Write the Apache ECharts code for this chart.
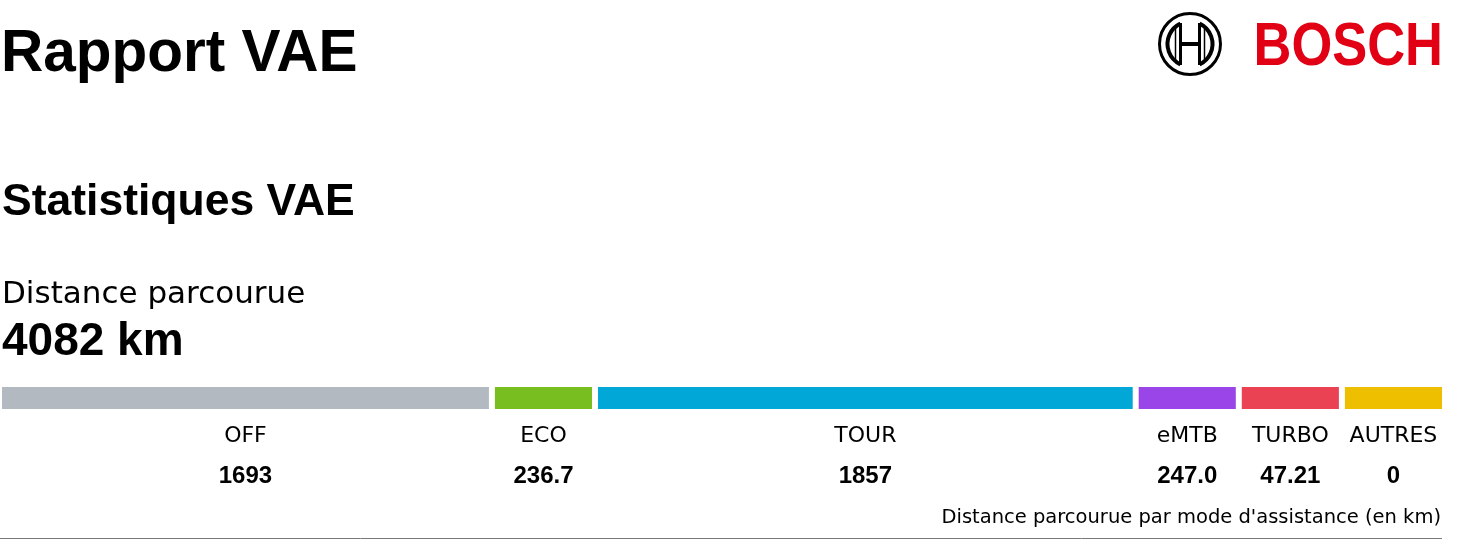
<!DOCTYPE html>
<html>
<head>
<meta charset="utf-8">
<script src="https://cdn.jsdelivr.net/npm/echarts@6/dist/echarts.min.js"></script>
<style>
  html, body { margin: 0; padding: 0; background: #fff; }
  #chart { width: 1462px; height: 552px; }
</style>
</head>
<body>
<div id="chart"></div>
<script>
// modes d'assistance et distances (km)
var modes = ['OFF', 'ECO', 'TOUR', 'eMTB', 'TURBO', 'AUTRES'];
var distances = [1693, 236.7, 1857, 247.0, 47.21, 0];
var modeColors = ['#b2b9c0', '#78be20', '#00a7d7', '#9a45e8', '#ea4253', '#edbf00'];
var totalKm = 4082;

// petits segments gardent une largeur minimale
var minShare = 0.0713;
function shares(vals) {
    var sum = 0, bigSum = 0, nSmall = 0;
    vals.forEach(function (v) { sum += v; });
    var small = vals.map(function (v) { return v / sum < minShare; });
    vals.forEach(function (v, i) {
        if (small[i]) nSmall++; else bigSum += v;
    });
    var rest = 1 - nSmall * minShare;
    return vals.map(function (v, i) { return small[i] ? minShare : v / bigSum * rest; });
}

function fmt(v) {
    return v === 0 ? '0' : v.toPrecision(4);
}

var sh = shares(distances);
var segData = [];
var acc = 0;
for (var i = 0; i < sh.length; i++) {
    segData.push([acc, acc + sh[i], 0, i]);
    acc += sh[i];
}

var chart = echarts.init(document.getElementById('chart'));
var gap = 6;

chart.setOption({
    animation: false,
    grid: { left: 2, right: 14, top: 387, height: 22 },
    xAxis: { type: 'value', min: 0, max: 1, show: false },
    yAxis: { type: 'category', data: ['km'], show: false },
    series: [{
        type: 'custom',
        data: segData,
        encode: { x: [0, 1], y: 2 },
        renderItem: function (params, api) {
            var idx = api.value(3);
            var s = api.coord([api.value(0), 0]);
            var e = api.coord([api.value(1), 0]);
            var w = e[0] - s[0] - gap;
            var cx = s[0] + w / 2;
            return {
                type: 'group',
                children: [{
                    type: 'rect',
                    shape: { x: s[0], y: s[1] - 11, width: w, height: 22 },
                    style: { fill: modeColors[idx] }
                }, {
                    type: 'text',
                    style: {
                        text: modes[idx], x: cx, y: s[1] + 38,
                        textAlign: 'center', textVerticalAlign: 'middle',
                        fontFamily: 'DejaVu Sans', fontSize: 22, fill: '#000'
                    }
                }, {
                    type: 'text',
                    style: {
                        text: fmt(distances[idx]), x: cx, y: s[1] + 78,
                        textAlign: 'center', textVerticalAlign: 'middle',
                        fontFamily: 'Liberation Sans', fontWeight: 'bold', fontSize: 24, fill: '#000'
                    }
                }]
            };
        }
    }],
    graphic: [
        {
            type: 'text', x: 1, y: 55,
            style: { text: 'Rapport VAE', textVerticalAlign: 'middle', fontFamily: 'Liberation Sans', fontWeight: 'bold', fontSize: 58.5, fill: '#000' }
        },
        {
            type: 'text', x: 2, y: 203,
            style: { text: 'Statistiques VAE', textVerticalAlign: 'middle', fontFamily: 'Liberation Sans', fontWeight: 'bold', fontSize: 44.5, fill: '#000' }
        },
        {
            type: 'text', x: 2, y: 295,
            style: { text: 'Distance parcourue', textVerticalAlign: 'middle', fontFamily: 'DejaVu Sans', fontSize: 31, fill: '#000' }
        },
        {
            type: 'text', x: 2, y: 342,
            style: { text: totalKm + ' km', textVerticalAlign: 'middle', fontFamily: 'Liberation Sans', fontWeight: 'bold', fontSize: 46, fill: '#000' }
        },
        {
            type: 'text', x: 1441, y: 518,
            style: { text: "Distance parcourue par mode d'assistance (en km)", textAlign: 'right', textVerticalAlign: 'middle', fontFamily: 'DejaVu Sans', fontSize: 19.5, fill: '#000' }
        },
        {
            type: 'line', shape: { x1: 0, y1: 538.5, x2: 1442, y2: 538.5 },
            style: { stroke: '#76787a', lineWidth: 1 }
        },
        // logo Bosch
        {
            type: 'text', x: 1443, y: 48, scaleX: 0.86,
            style: { text: 'BOSCH', textAlign: 'right', textVerticalAlign: 'middle', fontFamily: 'Liberation Sans', fontWeight: 'bold', fontSize: 61, fill: '#e20015' }
        },
        {
            type: 'group', x: 1190, y: 44,
            children: [
                { type: 'circle', shape: { cx: 0, cy: 0, r: 30.5 }, style: { fill: 'none', stroke: '#000', lineWidth: 3 } },
                { type: 'arc', shape: { cx: 0, cy: 0, r: 22.5, startAngle: Math.PI * 0.64, endAngle: Math.PI * 1.36 }, style: { fill: 'none', stroke: '#000', lineWidth: 4 } },
                { type: 'arc', shape: { cx: 0, cy: 0, r: 22.5, startAngle: -Math.PI * 0.36, endAngle: Math.PI * 0.36 }, style: { fill: 'none', stroke: '#000', lineWidth: 4 } },
                { type: 'line', shape: { x1: -14.5, y1: -17, x2: -14.5, y2: 17 }, style: { stroke: '#000', lineWidth: 1.5 } },
                { type: 'line', shape: { x1: 14.5, y1: -17, x2: 14.5, y2: 17 }, style: { stroke: '#000', lineWidth: 1.5 } },
                { type: 'line', shape: { x1: -9.5, y1: -21, x2: -9.5, y2: 21 }, style: { stroke: '#000', lineWidth: 3 } },
                { type: 'line', shape: { x1: 9.5, y1: -21, x2: 9.5, y2: 21 }, style: { stroke: '#000', lineWidth: 3 } },
                { type: 'line', shape: { x1: -9.5, y1: 0, x2: 9.5, y2: 0 }, style: { stroke: '#000', lineWidth: 4 } }
            ]
        }
    ]
});
</script>
</body>
</html>
